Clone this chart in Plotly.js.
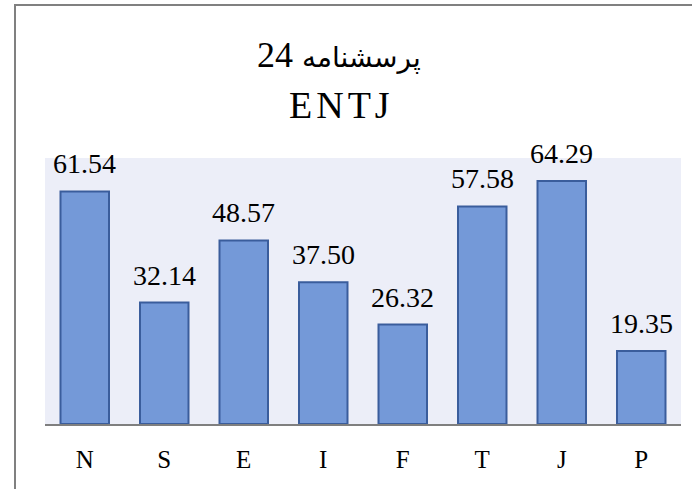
<!DOCTYPE html>
<html>
<head>
<meta charset="utf-8">
<script src="https://cdn.plot.ly/plotly-3.0.1.min.js"></script>
<style>
  html, body { margin: 0; padding: 0; background: #ffffff; }
  #wrap { position: relative; width: 692px; height: 489px; overflow: hidden; }
  #chart { width: 692px; height: 489px; }
  #frame { position: absolute; left: 14px; top: 4px; width: 700px; height: 500px;
           border-top: 2px solid #808080; border-left: 2px solid #808080; pointer-events: none; }
</style>
</head>
<body>
<div id="wrap">
  <div id="chart"></div>
  <div id="frame"></div>
</div>
<script>
const categories = ["N", "S", "E", "I", "F", "T", "J", "P"];
const values = [61.54, 32.14, 48.57, 37.50, 26.32, 57.58, 64.29, 19.35];
const valueLabels = ["61.54", "32.14", "48.57", "37.50", "26.32", "57.58", "64.29", "19.35"];
const titleNumber = "24";
const titleWord = "پرسشنامه";
const titleLine2 = "ENTJ";

const serif = "Liberation Serif";

const trace = {
  type: "bar",
  x: categories,
  y: values,
  marker: { color: "#7499d8", line: { color: "#3a5d9c", width: 2 } },
  hoverinfo: "none"
};

const labelAnnotations = categories.map((c, i) => ({
  x: c, y: values[i], xref: "x", yref: "y",
  text: valueLabels[i], showarrow: false,
  xanchor: "center", yanchor: "bottom", yshift: 10,
  font: { family: serif, size: 28, color: "#000000" }
}));

const layout = {
  width: 692,
  height: 489,
  margin: { l: 45, r: 11, t: 158, b: 65 },
  paper_bgcolor: "#ffffff",
  plot_bgcolor: "#eceef8",
  bargap: 0.39,
  showlegend: false,
  xaxis: {
    showline: true, linecolor: "#7f7f7f", linewidth: 2,
    ticks: "", showgrid: false, zeroline: false,
    tickfont: { family: serif, size: 25, color: "#000000" },
    ticklabelstandoff: 12
  },
  yaxis: {
    range: [0, 70.4], showgrid: false, zeroline: false,
    showticklabels: false, ticks: "", showline: false
  },
  annotations: labelAnnotations.concat([
    { text: titleNumber + " <span style='font-family:DejaVu Sans;font-size:28px'>" + titleWord + "</span>",
      xref: "paper", yref: "paper", x: 0.463, y: 1.387,
      xanchor: "center", yanchor: "middle", showarrow: false,
      font: { family: serif, size: 36, color: "#000000" } },
    { text: "<span style='letter-spacing:4px'>" + titleLine2 + "</span>", xref: "paper", yref: "paper", x: 0.466, y: 1.20,
      xanchor: "center", yanchor: "middle", showarrow: false,
      font: { family: serif, size: 38, color: "#000000" } }
  ])
};

Plotly.newPlot("chart", [trace], layout, { displayModeBar: false, staticPlot: true });
</script>
</body>
</html>
